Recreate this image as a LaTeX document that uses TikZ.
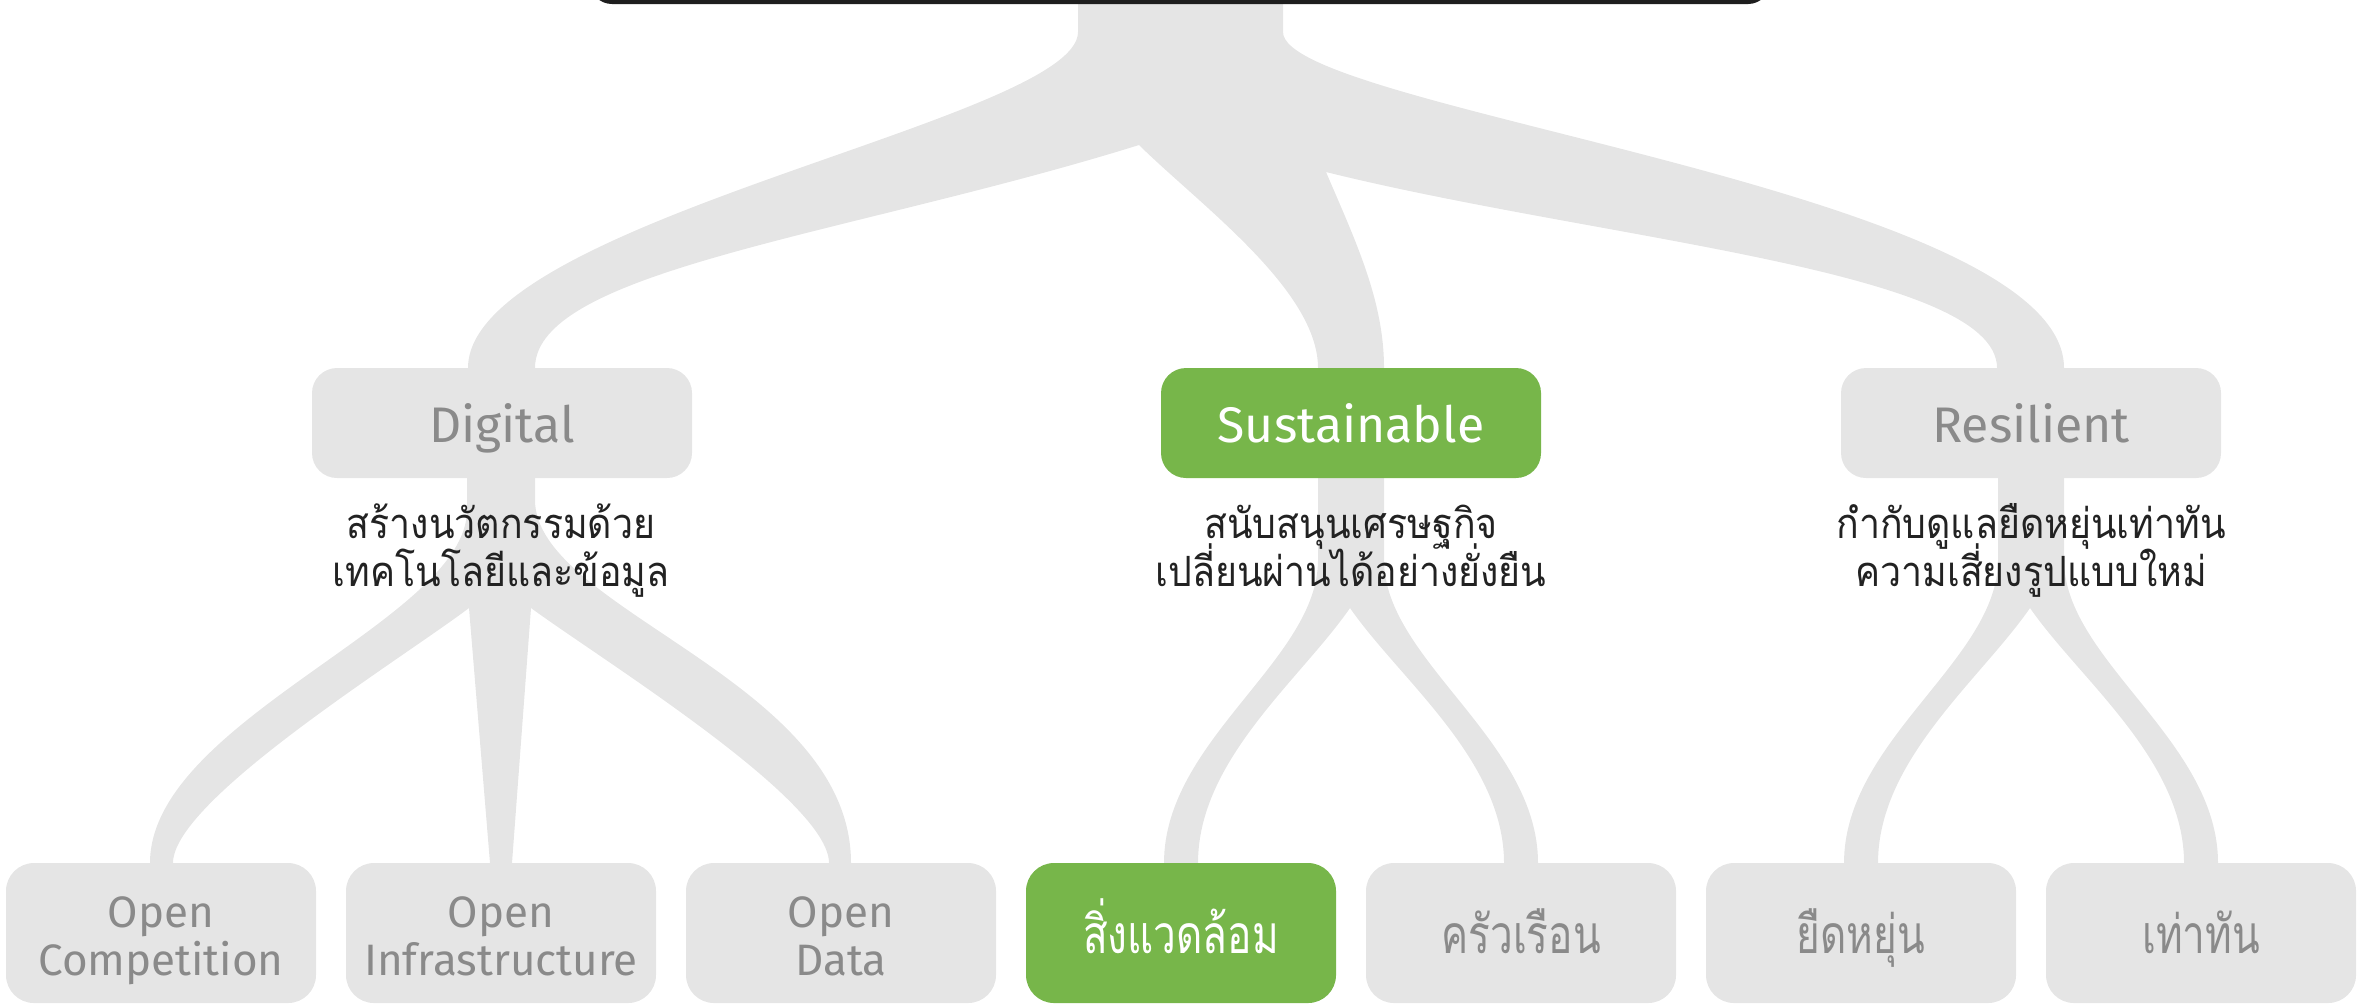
\documentclass[tikz,border=0pt]{standalone}
\usepackage{fontspec}
\setmainfont{Fira Sans}
\newfontfamily\thai[Script=Thai, FakeStretch=0.9]{Loma}
\newfontfamily\thaibig[Script=Thai, FakeStretch=0.76]{Loma}
\definecolor{band}{HTML}{E5E5E5}
\definecolor{lbl}{HTML}{8A8A8A}
\definecolor{grn}{HTML}{77B64A}
\definecolor{desc}{HTML}{222222}
\definecolor{topbar}{HTML}{1E1E1E}
% one line with its baseline #1 above the node centre
\newcommand\oneline[2]{\raisebox{#1}[0pt][0pt]{#2}}
% two centred lines, the first baseline #1 above the node centre
\newcommand\stackat[3]{\raisebox{#1}[0pt][0pt]{\vtop{\lineskiplimit=-100pt\lineskip=0pt\halign{\hfil##\hfil\cr #2\cr #3\cr}}}}
\tikzset{
  lvtwo/.style={rounded corners=7.5pt, minimum width=114pt, minimum height=33pt, inner sep=0pt, font=\fontsize{15}{17}\selectfont},
  lvthree/.style={rounded corners=8.4pt, minimum width=93pt, minimum height=42pt, inner sep=0pt, font=\fontsize{13.2}{14.4}\selectfont},
  thaithree/.style={lvthree, font=\thaibig\fontsize{16}{18}\selectfont},
  greybox/.style={fill=band, text=lbl},
  greenbox/.style={fill=grn, text=white},
  desctext/.style={text=desc, font=\thai\fontsize{12.5}{14.4}\selectfont, inner sep=0pt},
  ribbon/.style={fill=band, draw=none}
}
\begin{document}
\begin{tikzpicture}[x=0.3pt,y=-0.3pt]
\useasboundingbox (0,0) rectangle (2358,1006);
\clip (0,0) rectangle (2358,1006);
% ---- upper tree: trunk splitting to the three pillars
\fill[ribbon] (1078,-10) -- (1078,32)
  .. controls (1078,120) and (468,220) .. (468,368) -- (468,390) -- (535,390) -- (535,368)
  .. controls (535,270) and (850,235) .. (1139,145)
  .. controls (1200,205) and (1318,290) .. (1318,368) -- (1318,390) -- (1384,390) -- (1384,368)
  .. controls (1384,300) and (1355,240) .. (1326,172)
  .. controls (1600,240) and (1997,270) .. (1997,368) -- (1997,390) -- (2064,390) -- (2064,368)
  .. controls (2064,190) and (1283,110) .. (1283,32) -- (1283,-10) -- cycle;
% ---- Digital branches
\fill[ribbon] (467,470) -- (467,510)
  .. controls (467,620) and (150,720) .. (150,863) -- (150,880) -- (173,880) -- (173,863)
  .. controls (173,800) and (400,660) .. (469,608)
  -- (490,863) -- (490,880) -- (512,880) -- (512,863) -- (531,608)
  .. controls (602,660) and (829,800) .. (829,863) -- (829,880) -- (851,880) -- (851,863)
  .. controls (851,680) and (535,610) .. (535,500) -- (535,470) -- cycle;
% ---- Sustainable branches
\fill[ribbon] (1318,470) -- (1318,560)
  .. controls (1318,660) and (1164,740) .. (1164,863) -- (1164,880) -- (1198,880) -- (1198,863)
  .. controls (1198,760) and (1300,680) .. (1350,608)
  .. controls (1400,680) and (1504,760) .. (1504,863) -- (1504,880) -- (1538,880) -- (1538,863)
  .. controls (1538,740) and (1384,660) .. (1384,560) -- (1384,470) -- cycle;
% ---- Resilient branches (same shape, shifted)
\begin{scope}[shift={(680,0)}]
\fill[ribbon] (1318,470) -- (1318,560)
  .. controls (1318,660) and (1164,740) .. (1164,863) -- (1164,880) -- (1198,880) -- (1198,863)
  .. controls (1198,760) and (1300,680) .. (1350,608)
  .. controls (1400,680) and (1504,760) .. (1504,863) -- (1504,880) -- (1538,880) -- (1538,863)
  .. controls (1538,740) and (1384,660) .. (1384,560) -- (1384,470) -- cycle;
\end{scope}
% ---- top bar
\draw[topbar, line width=1.2pt, fill=white, rounded corners=6pt] (592,-60) rectangle (1768,2);
% ---- level 2
\node[lvtwo, greybox] (dig) at (502,423) {\oneline{-5.7pt}{Digital}};
\node[lvtwo, greenbox] (sus) at (1351,423) {\oneline{-5.7pt}{Sustainable}};
\node[lvtwo, greybox] (res) at (2031,423) {\oneline{-5.7pt}{Resilient}};
% ---- descriptions (node placed on the first baseline)
\node[desctext] (ddig) at (501,538) {\stackat{0pt}{สร้างนวัตกรรมด้วย}{เทคโนโลยีและข้อมูล}};
\node[desctext] (dsus) at (1351,538) {\stackat{0pt}{สนับสนุนเศรษฐกิจ}{เปลี่ยนผ่านได้อย่างยั่งยืน}};
\node[desctext] (dres) at (2031,538) {\stackat{0pt}{กำกับดูแลยืดหยุ่นเท่าทัน}{ความเสี่ยงรูปแบบใหม่}};
% ---- level 3
\node[lvthree, greybox] (oc) at (161,933) {\stackat{1.7pt}{Open}{Competition}};
\node[lvthree, greybox] (oi) at (501,933) {\stackat{1.7pt}{Open}{Infrastructure}};
\node[lvthree, greybox] (od) at (841,933) {\stackat{1.7pt}{Open}{Data}};
\node[thaithree, greenbox] (env) at (1181,933) {\oneline{-6pt}{สิ่งแวดล้อม}};
\node[thaithree, greybox] (hh) at (1521,933) {\oneline{-6pt}{ครัวเรือน}};
\node[thaithree, greybox] (flex) at (1861,933) {\oneline{-6pt}{ยืดหยุ่น}};
\node[thaithree, greybox] (agile) at (2201,933) {\oneline{-6pt}{เท่าทัน}};
\end{tikzpicture}
\end{document}
